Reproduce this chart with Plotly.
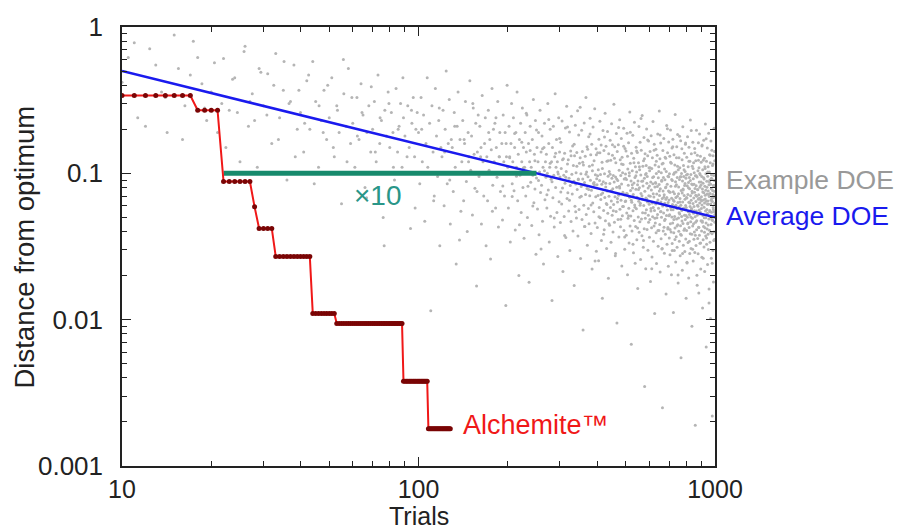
import plotly.graph_objects as go
import math

# ---------------- data ----------------
# Example DOE: one trial per x from 10 to 1000
doe_trials = list(range(10, 1001))
doe_values = [
    0.42, 0.78, 0.21, 0.55, 0.33, 0.88, 0.17, 0.47, 0.62, 0.28,
    0.36, 0.19, 0.61, 0.27, 0.45, 0.12, 0.74, 0.31, 0.23, 0.52,
    0.29, 0.48, 0.16, 0.66, 0.24, 0.37, 0.09, 0.31, 0.55, 0.2,
    0.26, 0.14, 0.43, 0.2, 0.58, 0.31, 0.11, 0.23, 0.37, 0.17,
    0.24, 0.45, 0.13, 0.29, 0.19, 0.062, 0.35, 0.21, 0.52, 0.16,
    0.22, 0.11, 0.33, 0.17, 0.41, 0.25, 0.08, 0.19, 0.29, 0.14,
    0.2, 0.31, 0.12, 0.47, 0.16, 0.23, 0.05, 0.27, 0.18, 0.36,
    0.15, 0.26, 0.19, 0.09, 0.38, 0.14, 0.21, 0.3, 0.11, 0.24,
    0.18, 0.1, 0.29, 0.15, 0.042, 0.22, 0.33, 0.13, 0.2, 0.26,
    0.19, 0.085, 0.33, 0.12, 0.25, 0.047, 0.16, 0.45, 0.1, 0.22,
    0.0115, 0.29, 0.14, 0.07, 0.38, 0.18, 0.095, 0.23, 0.032, 0.15,
    0.13, 0.27, 0.06, 0.2, 0.5, 0.085, 0.16, 0.32, 0.045, 0.17,
    0.15, 0.075, 0.26, 0.11, 0.024, 0.21, 0.36, 0.1, 0.17, 0.055,
    0.12, 0.23, 0.065, 0.16, 0.31, 0.088, 0.04, 0.19, 0.13, 0.43,
    0.105, 0.18, 0.052, 0.28, 0.135, 0.079, 0.22, 0.017, 0.14, 0.25,
    0.095, 0.21, 0.13, 0.045, 0.34, 0.12, 0.07, 0.16, 0.24, 0.032,
    0.13, 0.065, 0.27, 0.105, 0.17, 0.026, 0.145, 0.38, 0.083, 0.2,
    0.12, 0.22, 0.058, 0.15, 0.094, 0.31, 0.043, 0.13, 0.19, 0.075,
    0.1, 0.16, 0.048, 0.25, 0.12, 0.07, 0.19, 0.0125, 0.13, 0.4,
    0.11, 0.058, 0.21, 0.13, 0.034, 0.16, 0.3, 0.085, 0.12, 0.24,
    0.076, 0.15, 0.041, 0.19, 0.11, 0.36, 0.065, 0.135, 0.02, 0.17,
    0.097, 0.22, 0.054, 0.12, 0.28, 0.08, 0.15, 0.036, 0.11, 0.19,
    0.07, 0.14, 0.25, 0.05, 0.1, 0.16, 0.018, 0.12, 0.21, 0.087,
    0.11, 0.044, 0.17, 0.097, 0.32, 0.063, 0.135, 0.078, 0.23, 0.028,
    0.093, 0.15, 0.057, 0.12, 0.19, 0.038, 0.102, 0.27, 0.074, 0.14,
    0.083, 0.18, 0.047, 0.11, 0.024, 0.15, 0.22, 0.066, 0.12, 0.094,
    0.135, 0.058, 0.1, 0.3, 0.077, 0.16, 0.034, 0.11, 0.2, 0.051,
    0.091, 0.12, 0.0135, 0.15, 0.068, 0.21, 0.097, 0.043, 0.13, 0.35,
    0.08, 0.11, 0.17, 0.054, 0.12, 0.027, 0.099, 0.24, 0.064, 0.14,
    0.0943, 0.0462, 0.163, 0.108, 0.0617, 0.228, 0.0795, 0.0213, 0.126, 0.0972,
    0.0508, 0.137, 0.0856, 0.204, 0.0364, 0.103, 0.287, 0.0674, 0.116, 0.0738,
    0.124, 0.0553, 0.0927, 0.192, 0.0297, 0.0826, 0.142, 0.0468, 0.246, 0.0985,
    0.0723, 0.154, 0.0403, 0.113, 0.0884, 0.0171, 0.132, 0.0596, 0.213, 0.0847,
    0.101, 0.0496, 0.139, 0.0774, 0.268, 0.0373, 0.0906, 0.183, 0.0567, 0.117,
    0.0687, 0.128, 0.0262, 0.0994, 0.0813, 0.197, 0.0484, 0.141, 0.0913, 0.0085,
    0.114, 0.0604, 0.221, 0.0866, 0.0433, 0.131, 0.0716, 0.33, 0.0523, 0.102,
    0.0788, 0.0322, 0.146, 0.0947, 0.0576, 0.178, 0.0453, 0.112, 0.0704, 0.238,
    0.0897, 0.134, 0.0388, 0.0765, 0.158, 0.0222, 0.104, 0.0628, 0.207, 0.0853,
    0.0546, 0.122, 0.0834, 0.276, 0.0457, 0.0977, 0.0693, 0.147, 0.0293, 0.0917,
    0.0836, 0.0427, 0.138, 0.0705, 0.106, 0.0253, 0.171, 0.0584, 0.0894, 0.227,
    0.0497, 0.0983, 0.0663, 0.156, 0.0348, 0.0842, 0.119, 0.014, 0.0735, 0.196,
    0.0876, 0.0557, 0.143, 0.0412, 0.0992, 0.0683, 0.257, 0.0474, 0.0806, 0.153,
    0.0623, 0.0307, 0.121, 0.0757, 0.193, 0.0534, 0.0954, 0.0192, 0.136, 0.0697,
    0.103, 0.0442, 0.0853, 0.168, 0.0583, 0.123, 0.0338, 0.0646, 0.218, 0.0924,
    0.0517, 0.133, 0.0784, 0.0398, 0.0968, 0.0613, 0.296, 0.0874, 0.0463, 0.152,
    0.0692, 0.0273, 0.0945, 0.118, 0.0548, 0.187, 0.0802, 0.0095, 0.141, 0.0637,
    0.0893, 0.0483, 0.157, 0.0707, 0.0367, 0.105, 0.0817, 0.232, 0.0568, 0.124,
    0.0432, 0.0966, 0.0655, 0.173, 0.0847, 0.0233, 0.129, 0.0513, 0.101, 0.0744,
    0.115, 0.0593, 0.203, 0.0406, 0.0916, 0.0714, 0.0303, 0.148, 0.0643, 0.0989,
    0.0646, 0.142, 0.0378, 0.0907, 0.0536, 0.188, 0.0726, 0.0203, 0.107, 0.0494,
    0.0828, 0.162, 0.0577, 0.0334, 0.0963, 0.0686, 0.262, 0.0437, 0.117, 0.0763,
    0.0512, 0.0887, 0.0068, 0.137, 0.0634, 0.0403, 0.104, 0.0793, 0.182, 0.0554,
    0.0717, 0.0287, 0.127, 0.0858, 0.0476, 0.223, 0.0608, 0.0936, 0.0243, 0.111,
    0.0434, 0.0777, 0.151, 0.0573, 0.102, 0.0352, 0.0687, 0.139, 0.0835, 0.0163,
    0.0886, 0.0503, 0.118, 0.0644, 0.209, 0.0396, 0.0798, 0.106, 0.0467, 0.163,
    0.0625, 0.0258, 0.0973, 0.0728, 0.144, 0.0488, 0.0882, 0.0374, 0.248, 0.0667,
    0.0538, 0.112, 0.0818, 0.0313, 0.122, 0.0603, 0.176, 0.0418, 0.0925, 0.0035,
    0.0753, 0.136, 0.0493, 0.0982, 0.0223, 0.0677, 0.113, 0.0564, 0.201, 0.0857,
    0.0413, 0.0953, 0.0636, 0.132, 0.0298, 0.0794, 0.0518, 0.166, 0.0703, 0.109,
    0.0614, 0.0366, 0.104, 0.0483, 0.141, 0.0696, 0.0182, 0.0874, 0.0553, 0.181,
    0.0768, 0.0424, 0.108, 0.0268, 0.0627, 0.128, 0.0506, 0.0848, 0.226, 0.0583,
    0.0343, 0.0946, 0.0688, 0.0436, 0.158, 0.0557, 0.011, 0.0805, 0.114, 0.0458,
    0.0867, 0.0617, 0.146, 0.0392, 0.0996, 0.0242, 0.0723, 0.0497, 0.133, 0.0813,
    0.0524, 0.186, 0.0657, 0.0318, 0.0934, 0.0578, 0.111, 0.0407, 0.0838, 0.267,
    0.0706, 0.0447, 0.126, 0.0212, 0.0786, 0.0546, 0.161, 0.0638, 0.0357, 0.101,
    0.0502, 0.0883, 0.0304, 0.116, 0.0674, 0.0025, 0.0597, 0.143, 0.0758, 0.0403,
    0.0937, 0.0536, 0.173, 0.0428, 0.0713, 0.0284, 0.107, 0.0624, 0.0903, 0.0486,
    0.0383, 0.0797, 0.127, 0.0664, 0.015, 0.103, 0.0516, 0.212, 0.0685, 0.0328,
    0.0843, 0.0562, 0.138, 0.0417, 0.0957, 0.0633, 0.0232, 0.0756, 0.164, 0.0513,
    0.0657, 0.0362, 0.0993, 0.0522, 0.131, 0.0278, 0.0743, 0.0452, 0.198, 0.0584,
    0.0817, 0.0398, 0.117, 0.0203, 0.0676, 0.0504, 0.149, 0.0332, 0.0894, 0.0613,
    0.0457, 0.171, 0.0563, 0.0747, 0.0112, 0.0985, 0.0393, 0.134, 0.0644, 0.0297,
    0.0724, 0.0508, 0.114, 0.0423, 0.252, 0.0598, 0.0876, 0.0248, 0.0683, 0.102,
    0.0368, 0.0834, 0.0487, 0.152, 0.0574, 0.0312, 0.0938, 0.0697, 0.184, 0.0446,
    0.0632, 0.0178, 0.106, 0.0496, 0.0806, 0.0402, 0.128, 0.0588, 0.0343, 0.0908,
    0.0528, 0.109, 0.0673, 0.0273, 0.0948, 0.0438, 0.167, 0.0606, 0.0055, 0.0762,
    0.0377, 0.0996, 0.0558, 0.147, 0.0473, 0.0734, 0.0218, 0.0887, 0.0638, 0.208,
    0.0454, 0.0768, 0.0323, 0.113, 0.0577, 0.0953, 0.0408, 0.0706, 0.137, 0.0517,
    0.0826, 0.0292, 0.0664, 0.103, 0.0484, 0.158, 0.0602, 0.0356, 0.0927, 0.014,
    0.0585, 0.0976, 0.0406, 0.129, 0.0677, 0.0244, 0.0823, 0.0502, 0.178, 0.0453,
    0.0716, 0.0337, 0.111, 0.0547, 0.0866, 0.0193, 0.0634, 0.151, 0.0427, 0.0936,
    0.0523, 0.0784, 0.0283, 0.121, 0.0594, 0.0387, 0.231, 0.0704, 0.0466, 0.0983,
    0.0307, 0.0656, 0.136, 0.0565, 0.0846, 0.0384, 0.009, 0.0754, 0.112, 0.0493,
    0.0837, 0.0437, 0.163, 0.0623, 0.0252, 0.0917, 0.0534, 0.118, 0.0678, 0.0354,
    0.0593, 0.101, 0.0397, 0.0743, 0.148, 0.0288, 0.0787, 0.0505, 0.0019, 0.0963,
    0.0463, 0.122, 0.0643, 0.0321, 0.0824, 0.0553, 0.197, 0.0412, 0.0698, 0.0201,
    0.0945, 0.0518, 0.133, 0.0605, 0.0358, 0.0773, 0.104, 0.0282, 0.0666, 0.162,
    0.0428, 0.0713, 0.0152, 0.109, 0.0562, 0.0872, 0.0378, 0.186, 0.0627, 0.0803,
    0.0333, 0.0978, 0.0544, 0.131, 0.0663, 0.0222, 0.0828, 0.0474, 0.119, 0.0576,
    0.0693, 0.0403, 0.0952, 0.0267, 0.0608, 0.156, 0.0472, 0.0783, 0.012, 0.106,
    0.0516, 0.0857, 0.0352, 0.123, 0.0658, 0.0433, 0.168, 0.0736, 0.0314, 0.0916,
    0.0497, 0.127, 0.0626, 0.0213, 0.0817, 0.0424, 0.108, 0.0707, 0.217, 0.0553,
    0.0373, 0.0765, 0.0995, 0.0458, 0.0065, 0.0645, 0.121, 0.0327, 0.0884, 0.0567,
    0.0723, 0.0416, 0.149, 0.0533, 0.0238, 0.0955, 0.0647, 0.0383, 0.111, 0.0757,
    0.0302, 0.0614, 0.188, 0.0487, 0.0834, 0.0162, 0.0694, 0.102, 0.0408, 0.134,
    0.0558, 0.0897, 0.0338, 0.0727, 0.118, 0.0503, 0.0102, 0.0843, 0.0618, 0.166,
    0.0447, 0.0786, 0.0263, 0.0977, 0.0543, 0.0672, 0.144, 0.0387, 0.0912, 0.0022,
    0.0643, 0.113, 0.0477, 0.0718, 0.0297, 0.132, 0.0583, 0.0826, 0.0181, 0.0684,
    0.0968, 0.0398, 0.0753, 0.203, 0.0547, 0.0353, 0.0893, 0.0622, 0.122, 0.0463,
    0.0704,
]

# Additional Example DOE points (second sample per trial range)
doe_extra_trials = [
    10.5, 11.3, 12.4, 13.6, 14.2, 15.5, 16.3, 17.4, 18.6, 19.3,
    20.5, 21.7, 22.4, 23.6, 24.5, 25.8, 26.7, 27.5, 28.6, 29.4,
    30.8, 32.5, 33.7, 35.2, 36.6, 38.4, 39.5, 41.3, 42.6, 44.5,
    46.2, 47.7, 49.4, 51.6, 53.3, 55.8, 57.4, 59.6, 62.2, 64.5,
    66.8, 69.3, 71.5, 74.2, 76.6, 79.5, 82.3, 85.4, 88.6, 91.5,
    94.7, 97.4,
    102.5, 107.5, 112.5, 117.5, 122.5, 127.5, 132.5, 137.5, 142.5, 147.5,
    152.5, 157.5, 162.5, 167.5, 172.5, 177.5, 182.5, 187.5, 192.5, 197.5,
    203, 207, 211, 214, 219, 223, 226, 231, 234, 238,
    243, 247, 250, 254, 259, 262, 266, 271, 275, 278,
    282, 287, 290, 295, 299, 302, 306, 311, 314, 318,
    323, 327, 330, 335, 339, 342, 346, 351, 354, 358,
    363, 367, 370, 375, 379, 382, 386, 391, 394, 398,
    402, 406, 409, 413, 417, 421, 424, 428, 432, 436,
    439, 443, 447, 451, 454, 458, 462, 466, 469, 473,
    477, 481, 484, 488, 492, 496, 499, 503, 507, 511,
    514, 518, 522, 526, 529, 533, 537, 541, 544, 548,
    552, 556, 559, 563, 567, 571, 574, 578, 582, 586,
    589, 593, 597, 601, 604, 608, 612, 616, 619, 623,
    627, 631, 634, 638, 642, 646, 649, 653, 657, 661,
    664, 668, 672, 676, 679, 683, 687, 691, 694, 698,
    702.5, 705.5, 708.5, 711.5, 714.5, 717.5, 720.5, 723.5, 726.5, 729.5,
    732.5, 735.5, 738.5, 741.5, 744.5, 747.5, 750.5, 753.5, 756.5, 759.5,
    762.5, 765.5, 768.5, 771.5, 774.5, 777.5, 780.5, 783.5, 786.5, 789.5,
    792.5, 795.5, 798.5, 801.5, 804.5, 807.5, 810.5, 813.5, 816.5, 819.5,
    822.5, 825.5, 828.5, 831.5, 834.5, 837.5, 840.5, 843.5, 846.5, 849.5,
    852.5, 855.5, 858.5, 861.5, 864.5, 867.5, 870.5, 873.5, 876.5, 879.5,
    882.5, 885.5, 888.5, 891.5, 894.5, 897.5, 900.5, 903.5, 906.5, 909.5,
    912.5, 915.5, 918.5, 921.5, 924.5, 927.5, 930.5, 933.5, 936.5, 939.5,
    942.5, 945.5, 948.5, 951.5, 954.5, 957.5, 960.5, 963.5, 966.5, 969.5,
    972.5, 975.5, 978.5, 981.5, 984.5, 987.5, 990.5, 993.5, 996.5, 999.5,
]
doe_extra_values = [
    0.62, 0.24, 0.71, 0.36, 0.19, 0.52, 0.29, 0.8, 0.41, 0.23,
    0.57, 0.3, 0.15, 0.44, 0.26, 0.68, 0.21, 0.35, 0.11, 0.49,
    0.25, 0.4, 0.17, 0.58, 0.3, 0.13, 0.37, 0.22, 0.47, 0.085,
    0.29, 0.19, 0.4, 0.15, 0.27, 0.6, 0.12, 0.33, 0.18, 0.26,
    0.068, 0.39, 0.14, 0.24, 0.032, 0.3, 0.11, 0.2, 0.45, 0.13,
    0.27, 0.058,
    0.2, 0.11, 0.065, 0.28, 0.14, 0.09, 0.21, 0.035, 0.17, 0.12,
    0.3, 0.075, 0.15, 0.1, 0.19, 0.055, 0.24, 0.13, 0.082, 0.16,
    0.128, 0.0694, 0.187, 0.0957, 0.0446, 0.163, 0.109, 0.257, 0.0816, 0.143,
    0.0597, 0.122, 0.198, 0.0893, 0.0304, 0.147, 0.104, 0.0713, 0.233, 0.117,
    0.0877, 0.0496, 0.137, 0.102, 0.173, 0.0745, 0.124, 0.0376, 0.0942, 0.207,
    0.0655, 0.132, 0.0864, 0.158, 0.0547, 0.112, 0.0915, 0.283, 0.0696, 0.119,
    0.0434, 0.0987, 0.152, 0.0775, 0.186, 0.0608, 0.114, 0.0866, 0.0252, 0.134,
    0.0963, 0.0505, 0.138, 0.0716, 0.108, 0.0384, 0.177, 0.0857, 0.0613, 0.122,
    0.0452, 0.0984, 0.0763, 0.157, 0.0556, 0.127, 0.0283, 0.0914, 0.0674, 0.206,
    0.0794, 0.0486, 0.116, 0.0593, 0.153, 0.0367, 0.0925, 0.0727, 0.131, 0.0514,
    0.101, 0.191, 0.0654, 0.0837, 0.0328, 0.118, 0.0586, 0.0963, 0.142, 0.0423,
    0.0776, 0.111, 0.0605, 0.237, 0.0704, 0.0887, 0.0347, 0.126, 0.0536, 0.0996,
    0.0667, 0.169, 0.0463, 0.0818, 0.109, 0.0576, 0.0223, 0.0937, 0.0724, 0.144,
    0.0494, 0.0856, 0.121, 0.0636, 0.0406, 0.103, 0.0757, 0.183, 0.0548, 0.0897,
    0.0306, 0.117, 0.0686, 0.0477, 0.129, 0.0808, 0.0597, 0.202, 0.0427, 0.0947,
    0.0745, 0.0414, 0.119, 0.0563, 0.0906, 0.0297, 0.152, 0.0657, 0.0484, 0.101,
    0.0353, 0.0816, 0.0604, 0.128, 0.0437, 0.112, 0.0202, 0.0726, 0.0538, 0.179,
    0.0637, 0.0383, 0.0946, 0.0507, 0.124, 0.0283, 0.0783, 0.0577, 0.106, 0.0418,
    0.0853, 0.161, 0.0516, 0.0684, 0.0247, 0.0984, 0.0457, 0.0797, 0.121, 0.0343,
    0.0626, 0.0895, 0.0503, 0.196, 0.0574, 0.0733, 0.0303, 0.108, 0.0453, 0.0843,
    0.0554, 0.138, 0.0377, 0.0707, 0.0963, 0.0474, 0.0172, 0.0776, 0.0596, 0.123,
    0.0426, 0.0675, 0.0997, 0.0527, 0.0334, 0.0874, 0.0646, 0.154, 0.0464, 0.0746,
    0.0263, 0.0934, 0.0587, 0.0396, 0.111, 0.0668, 0.0498, 0.172, 0.0362, 0.0804,
    0.0614, 0.102, 0.0443, 0.0717, 0.013, 0.0876, 0.0547, 0.133, 0.0394, 0.0656,
    0.0924, 0.0483, 0.0243, 0.0764, 0.116, 0.0567, 0.0348, 0.0826, 0.141, 0.0523,
]

# Average DOE trend line
avg_trials = [10, 1000]
avg_values = [0.5, 0.05]

# x10 comparison bar (at distance 0.1)
x10_trials = [22, 250]
x10_values = [0.1, 0.1]

# Alchemite best-so-far
alch_trials = list(range(10, 129))
alch_values = ([0.34] * 8 + [0.27] * 4 + [0.088] * 6 + [0.059] + [0.042] * 4
               + [0.027] * 11 + [0.011] * 9 + [0.0094] * 36 + [0.0038] * 19
               + [0.0018] * 21)

# ---------------- figure ----------------
FONT = "Liberation Sans, Arial, Helvetica, sans-serif"

fig = go.Figure()

n = min(len(doe_trials), len(doe_values))
k = min(len(doe_extra_trials), len(doe_extra_values))
fig.add_trace(go.Scatter(
    x=doe_trials[:n] + doe_extra_trials[:k], y=doe_values[:n] + doe_extra_values[:k],
    mode="markers", marker=dict(color="#b5b5b5", size=3, line=dict(width=0)),
    showlegend=False, hoverinfo="skip"))

fig.add_trace(go.Scatter(
    x=avg_trials, y=avg_values, mode="lines",
    line=dict(color="#1a1aee", width=2.5), showlegend=False))

fig.add_trace(go.Scatter(
    x=x10_trials, y=x10_values, mode="lines",
    line=dict(color="#178a6c", width=5), showlegend=False))

m = min(len(alch_trials), len(alch_values))
fig.add_trace(go.Scatter(
    x=alch_trials[:m], y=alch_values[:m], mode="lines+markers",
    line=dict(color="#f01818", width=2),
    marker=dict(color="#7a0505", size=5, line=dict(width=0)),
    showlegend=False))

minor_y = [k * 10 ** e for e in (-3, -2, -1) for k in range(2, 10)]
minor_x = [k * 10 ** e for e in (1, 2) for k in range(2, 10)]

axis_common = dict(
    type="log", showgrid=False, zeroline=False, showline=True,
    linecolor="#222222", linewidth=1.5, mirror="ticks",
    ticks="inside", ticklen=9, tickwidth=1.3, tickcolor="#222222",
)

fig.update_xaxes(
    **axis_common, range=[1, 3],
    tickfont=dict(family=FONT, size=25, color="#222222"),
    tickmode="array", tickvals=[10, 100, 1000], ticktext=["10", "100", "1000"],
    minor=dict(tickmode="array", tickvals=minor_x, ticks="inside", ticklen=5,
               tickwidth=1.2, tickcolor="#222222", showgrid=False),
    ticklabelstandoff=0,
)
fig.update_yaxes(
    **axis_common, range=[-3, 0],
    tickfont=dict(family=FONT, size=26, color="#222222"),
    tickmode="array", tickvals=[0.001, 0.01, 0.1, 1],
    ticktext=["0.001", "0.01", "0.1", "1"],
    minor=dict(tickmode="array", tickvals=minor_y, ticks="inside", ticklen=5,
               tickwidth=1.2, tickcolor="#222222", showgrid=False),
    ticklabelstandoff=12,
)

annotations = [
    dict(text="Trials", xref="paper", yref="paper", x=0.5, y=-0.1485,
         xanchor="center", yanchor="bottom", showarrow=False, borderpad=0,
         font=dict(family=FONT, size=25, color="#222222")),
    dict(text="Distance from optimum", xref="paper", yref="paper", x=-0.1636, y=0.5,
         xanchor="center", yanchor="middle", textangle=-90, showarrow=False,
         font=dict(family=FONT, size=27.5, color="#222222")),
    dict(text="Example DOE", xref="paper", yref="paper", x=1.015, y=0.6515,
         xanchor="left", yanchor="middle", showarrow=False,
         font=dict(family=FONT, size=26.5, color="#999999")),
    dict(text="Average DOE", xref="paper", yref="paper", x=1.015, y=0.5695,
         xanchor="left", yanchor="middle", showarrow=False,
         font=dict(family=FONT, size=26.5, color="#1a1aee")),
    dict(text="×10", xref="x", yref="y", x=math.log10(73), y=math.log10(0.0711),
         xanchor="center", yanchor="middle", showarrow=False,
         font=dict(family=FONT, size=28, color="#2a9688")),
    dict(text="Alchemite™", xref="x", yref="y", x=math.log10(139), y=math.log10(0.0019),
         xanchor="left", yanchor="middle", showarrow=False,
         font=dict(family=FONT, size=27, color="#f01818")),
]

fig.update_layout(
    width=900, height=531,
    margin=dict(l=122, r=185, t=27, b=65),
    plot_bgcolor="white", paper_bgcolor="white",
    annotations=annotations,
    font=dict(family=FONT),
)

fig.write_html("out.html", config={"displayModeBar": False},
               post_script="document.body.style.margin='0px';document.body.style.overflow='hidden';")
